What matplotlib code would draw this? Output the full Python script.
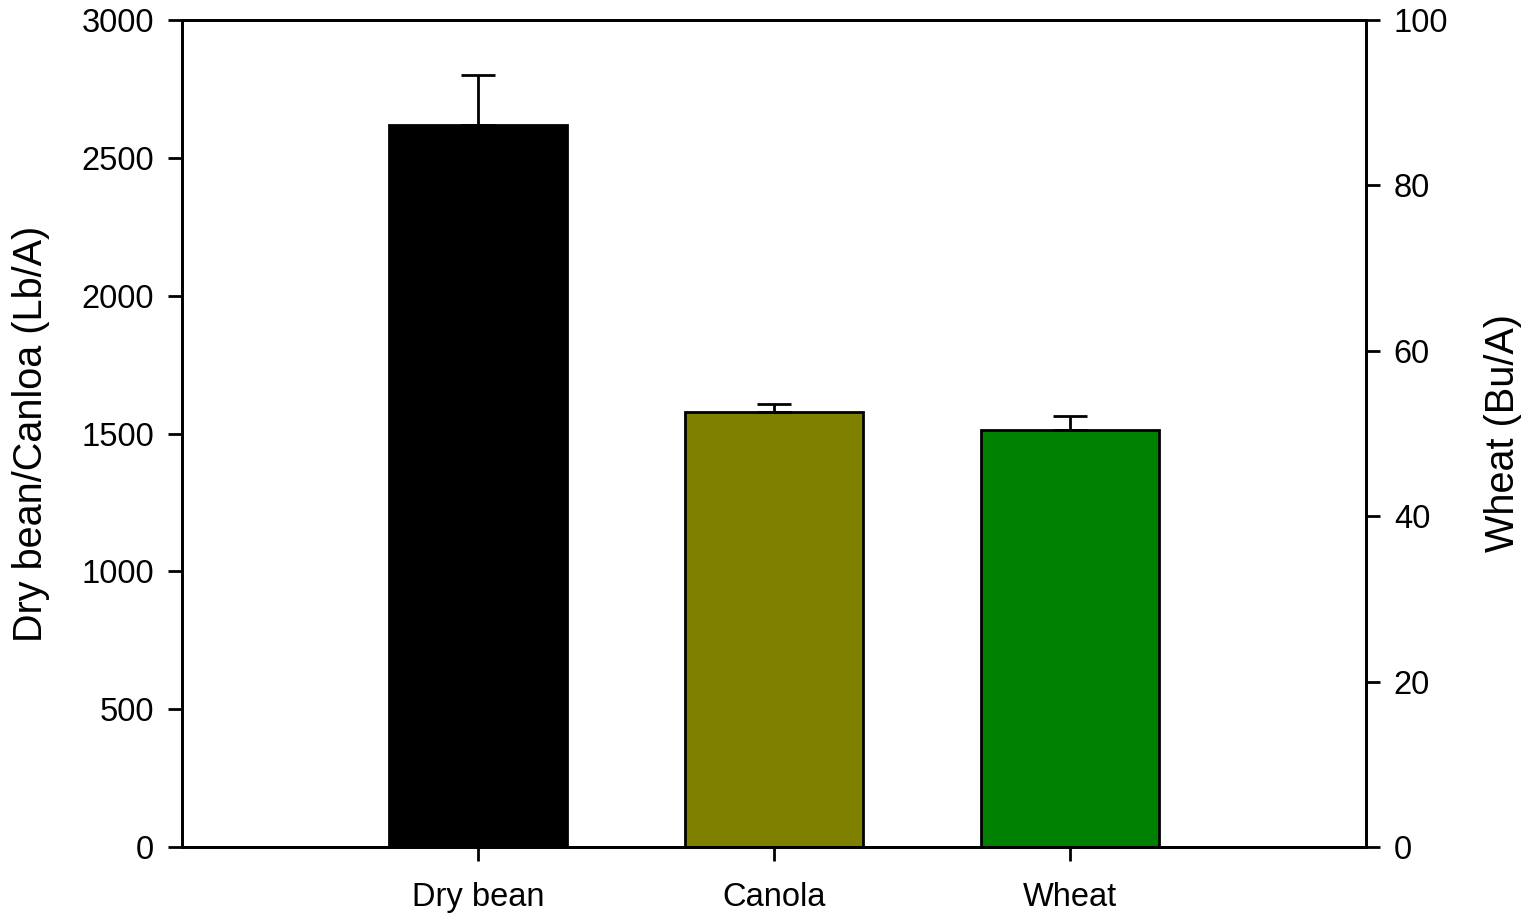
import matplotlib
matplotlib.use("Agg")
import matplotlib.pyplot as plt

plt.rcParams['font.family'] = ['Liberation Sans', 'DejaVu Sans']

# Crop yields
categories = ["Dry bean", "Canola", "Wheat"]
left_yield = [2620, 1578]          # Dry bean, Canola (Lb/A)
left_err = [180, 30]
wheat_yield = [50.4]               # Wheat (Bu/A)
wheat_err = [1.7]
bar_colors = ["#000000", "#808000", "#008000"]

fig = plt.figure(figsize=(15.35, 9.13), dpi=100)
ax = fig.add_axes([182 / 1535, 1 - 847 / 913, (1366 - 182) / 1535, (847 - 20) / 913])
ax2 = ax.twinx()

pos = [1, 2, 3]
width = 0.6
err_kw = dict(ecolor="black", elinewidth=2, capsize=12, capthick=2)

ax.bar(pos[:2], left_yield, width=width, color=bar_colors[:2], edgecolor="black",
       linewidth=2, yerr=[[0, 0], left_err], error_kw=err_kw, zorder=2)
ax2.bar(pos[2:], wheat_yield, width=width, color=bar_colors[2:], edgecolor="black",
        linewidth=2, yerr=[[0], wheat_err], error_kw=err_kw, zorder=2)

ax.set_xlim(0, 4)
ax.set_ylim(0, 3000)
ax2.set_ylim(0, 100)
ax.set_xticks(pos)
ax.set_xticklabels(categories)
ax.set_yticks(range(0, 3001, 500))
ax2.set_yticks(range(0, 101, 20))

for a in (ax, ax2):
    for s in a.spines.values():
        s.set_linewidth(2)
    a.tick_params(direction="out", length=10, width=2, labelsize=23.5, pad=10)
ax.tick_params(axis="x", pad=15)

ax.set_ylabel("Dry bean/Canloa (Lb/A)", fontsize=28.5)
ax2.set_ylabel("Wheat (Bu/A)", fontsize=28.5)
ax.yaxis.set_label_coords((50 - 182) / 1184, 0.5)
ax2.yaxis.set_label_coords((1484 - 182) / 1184, 0.5)

fig.savefig("out.png", dpi=100)
